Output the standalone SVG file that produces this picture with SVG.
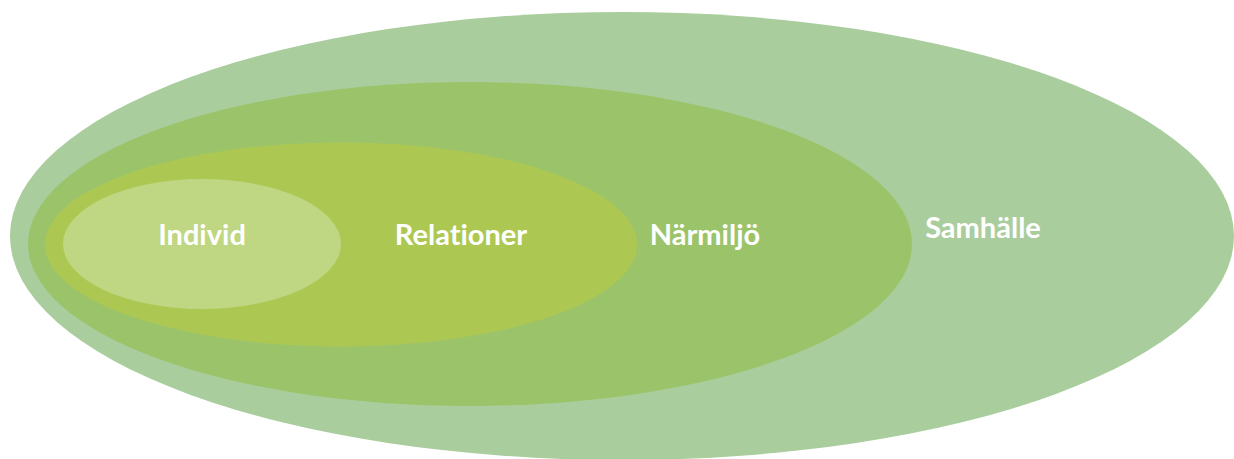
<svg xmlns="http://www.w3.org/2000/svg" width="1234" height="459" viewBox="0 0 1234 459">
<style>
.lbl{font-family:Lato,"Open Sans","Liberation Sans",sans-serif;font-weight:bold;font-size:29px;fill:#ffffff;text-anchor:middle;font-variant-ligatures:none}
</style>
<rect width="1234" height="459" fill="#ffffff"/>
<g id="samhalle">
<ellipse cx="622" cy="236" rx="612" ry="224" fill="#AACD9D"/>
<text class="lbl" x="983" y="238">Samhälle</text>
</g>
<g id="narmiljo">
<ellipse cx="470" cy="244" rx="442" ry="162" fill="#9BC46A"/>
<text class="lbl" x="705" y="245">Närmiljö</text>
</g>
<g id="relationer">
<ellipse cx="341" cy="244.5" rx="296" ry="102" fill="#ADC852"/>
<text class="lbl" x="461" y="245">Relationer</text>
</g>
<g id="individ">
<ellipse cx="202" cy="244" rx="139" ry="65" fill="#BFD782"/>
<text class="lbl" x="202" y="245">Individ</text>
</g>
<g id="connectors"/>
</svg>
